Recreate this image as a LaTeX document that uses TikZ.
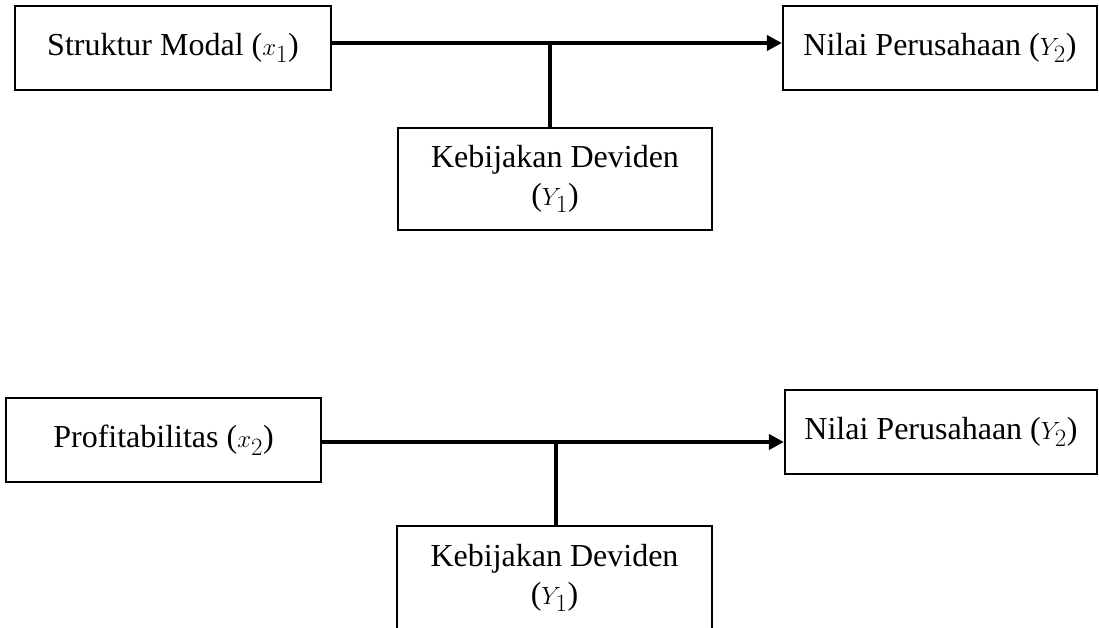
\documentclass[tikz,border=0pt]{standalone}
\usepackage{fontspec}
\setmainfont{Liberation Serif}
\usetikzlibrary{arrows.meta}
\newcommand{\mvar}[1]{{\fontsize{35}{38}\selectfont$#1$}}
\begin{document}
\begin{tikzpicture}[x=1pt,y=-1pt,
  box/.style={draw,line width=2.2pt,inner sep=0pt,align=center,font=\fontsize{32}{38}\selectfont},
  conn/.style={line width=3.6pt},
  arr/.style={conn,-{Triangle[length=15pt,width=15pt]}}]
\useasboundingbox (0,0) rectangle (1099,628);
% top diagram
\node[box,minimum width=316pt,minimum height=84pt] (sm) at (173,48) {Struktur Modal (\mvar{x_1})};
\node[box,minimum width=314pt,minimum height=84pt] (np1) at (940,48) {Nilai Perusahaan (\mvar{Y_2})};
\node[box,minimum width=314pt,minimum height=102pt] (kd1) at (555,179) {Kebijakan Deviden\\(\mvar{Y_1})};
\coordinate (j1) at (550,43);
\draw[arr] (sm.east |- j1) -- (np1.west |- j1);
\draw[conn] (j1) -- (kd1.north -| j1);
% bottom diagram
\node[box,minimum width=315pt,minimum height=84pt] (pr) at (163.5,440) {Profitabilitas (\mvar{x_2})};
\node[box,minimum width=312pt,minimum height=84pt] (np2) at (941,432) {Nilai Perusahaan (\mvar{Y_2})};
\node[box,minimum width=315pt,minimum height=104pt] (kd2) at (554.5,578) {Kebijakan Deviden\\(\mvar{Y_1})};
\coordinate (j2) at (556,442);
\draw[arr] (pr.east |- j2) -- (np2.west |- j2);
\draw[conn] (j2) -- (kd2.north -| j2);
\end{tikzpicture}
\end{document}
